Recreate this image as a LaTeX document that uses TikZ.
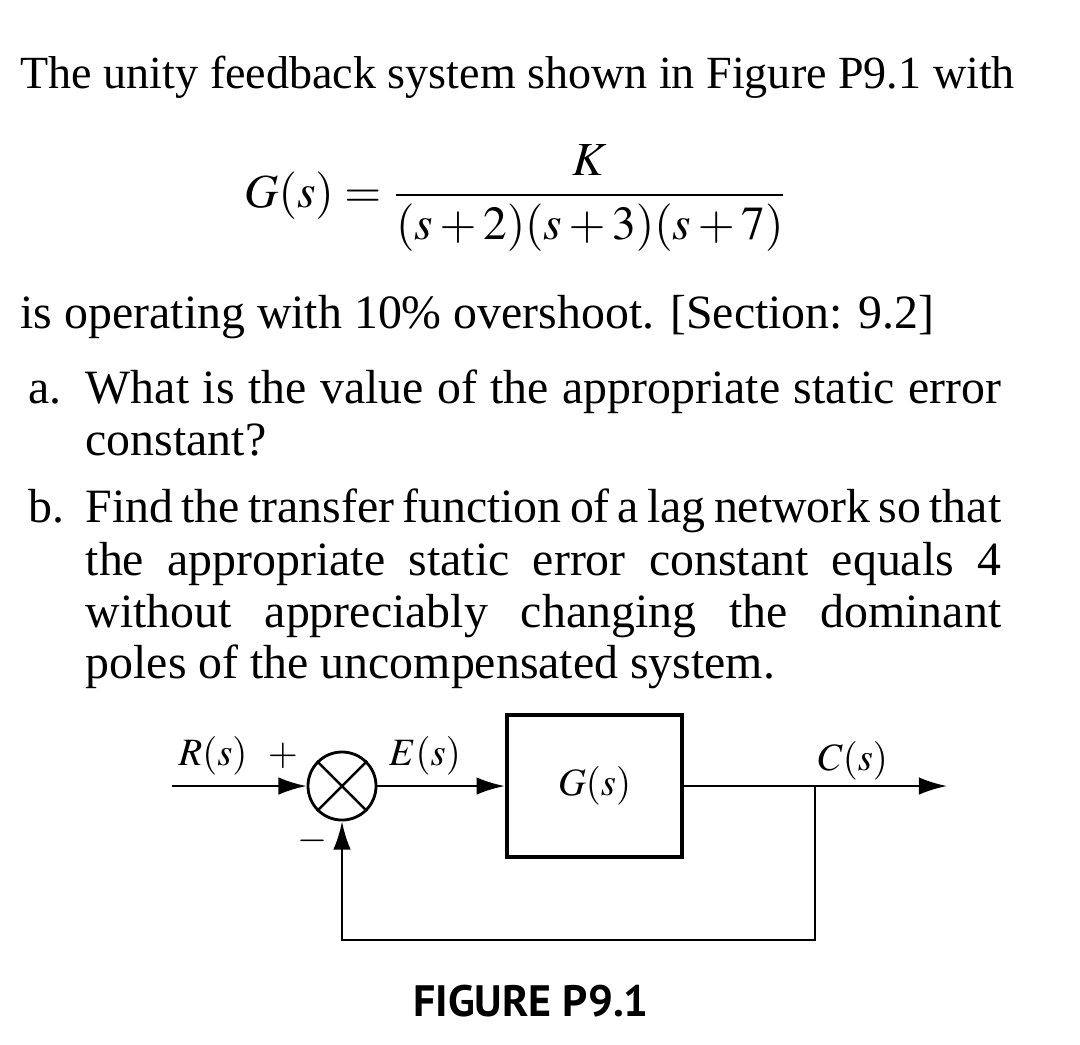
\documentclass[tikz,border=0pt]{standalone}
\usepackage{amsmath}
\usepackage{mathptmx}
\usepackage[no-math]{fontspec}
\setmainfont{Liberation Serif}
\newfontfamily\figFont{PT Sans}
\usetikzlibrary{positioning,arrows.meta}
\tikzstyle{sheet} = [x = .01cm, y = -.01cm]
\newcommand{\bodyFont}{\fontsize{13.6}{16}\selectfont}
\tikzstyle{textLine} = [anchor = base west, inner sep = 0, font = \bodyFont]
\tikzstyle{signalLabel} = [anchor = base, inner sep = 0, font = \fontsize{11}{13}\selectfont]
\tikzstyle{signalLine} = [color = black, line width = .7pt]
\tikzstyle{signalArrow} = [signalLine, -{Latex[length = 8pt, width = 5pt]}]
\tikzstyle{sumStyle} = [circle, draw, line width = .8pt, minimum size = .68cm, inner sep = 0]
\tikzstyle{blockStyle} = [draw, line width = 1.3pt, minimum width = 1.75cm, minimum height = 1.42cm, font = \fontsize{11}{13}\selectfont]
\newcommand{\textWidth}{9.15cm}
\newcommand{\justLine}[3]{\node [textLine] (#1) at (85, #2) {\makebox[\textWidth][s]{#3}};}
\newcommand{\plainLine}[4]{\node [textLine] (#1) at (#2, #3) {#4};}

\begin{document}
\begin{tikzpicture}[sheet]
        \useasboundingbox (0, 0) rectangle (1080, 1044);
        % problem text
        \node [textLine, font = \fontsize{13.1}{16}\selectfont] (intro) at (20, 88) {The unity feedback system shown in Figure P9.1 with};
        \node [font = \fontsize{13.5}{16}\selectfont, inner sep = 0] (plantEq) at (516, 198)
          {$G(s) = \dfrac{K}{(s+2)(s+3)(s+7)}$};
        \plainLine{overshoot}{20}{328}{is operating with 10\% overshoot. [Section: 9.2]}
        \plainLine{partA}{28}{403}{a.}
        \justLine{partAOne}{403}{What is the value of the appropriate static error}
        \plainLine{partATwo}{85}{455}{constant?}
        \plainLine{partB}{28}{522}{b.}
        \justLine{partBOne}{522}{Find the transfer function of a lag network so that}
        \justLine{partBTwo}{575}{the appropriate static error constant equals 4}
        \justLine{partBThree}{627}{without appreciably changing the dominant}
        \plainLine{partBFour}{85}{678}{poles of the uncompensated system.}

        % block diagram
        \node [sumStyle] (sum) at (342, 786) {};
        \draw [signalLine] (sum.north west) -- (sum.south east);
        \draw [signalLine] (sum.north east) -- (sum.south west);
        \node [blockStyle] (plant) at (594.5, 786) {$G(s)$};
        \coordinate (inStart) at (172, 786);
        \coordinate (branch) at (815, 786);
        \coordinate (outEnd) at (947, 786);
        \coordinate (fbLow) at (815, 940);
        \draw [signalArrow] (inStart) -- (sum.west);
        \draw [signalArrow] (sum.east) -- (plant.west);
        \draw [signalArrow] (plant.east) -- (outEnd);
        \draw [signalArrow] (branch) -- (fbLow) -| (sum.south);
        \node [signalLabel] (rLabel) at (213, 765) {$R(s)$};
        \node [signalLabel] (plusSign) at (283, 765) {$+$};
        \node [signalLabel] (minusSign) at (313, 850) {$-$};
        \node [signalLabel] (eLabel) at (425, 765) {$E(s)$};
        \node [signalLabel] (cLabel) at (853, 770) {$C(s)$};
        \node [anchor = base, inner sep = 0, font = \figFont\bfseries\fontsize{12.5}{14}\selectfont] (caption) at (531, 1016) {FIGURE P9.1};
      \end{tikzpicture}
\end{document}
